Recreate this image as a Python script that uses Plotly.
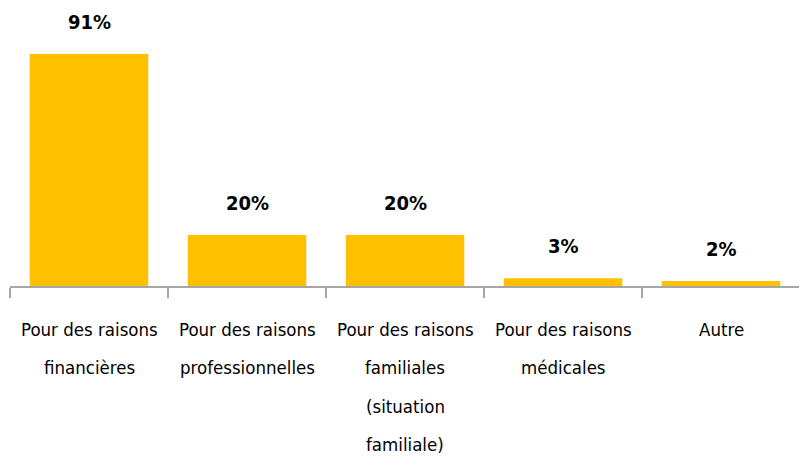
import plotly.graph_objects as go

categories = ["Pour des raisons financières", "Pour des raisons professionnelles",
              "Pour des raisons familiales (situation familiale)", "Pour des raisons médicales", "Autre"]
label_lines = [
    ["Pour des raisons", "financières"],
    ["Pour des raisons", "professionnelles"],
    ["Pour des raisons", "familiales", "(situation", "familiale)"],
    ["Pour des raisons", "médicales"],
    ["Autre"],
]
values = [91, 20, 20, 3, 2]
value_labels = ["91%", "20%", "20%", "3%", "2%"]

FONT = "Liberation Sans Narrow, DejaVu Sans Condensed, Arial Narrow, sans-serif"

fig = go.Figure(go.Bar(x=categories, y=values, marker=dict(color="#FFC000", line=dict(width=0)),
                       hoverinfo="skip"))

ann = []
for c, v, t in zip(categories, values, value_labels):
    ann.append(dict(x=c, y=v, xref="x", yref="y", text="<b>" + t + "</b>", showarrow=False,
                    yanchor="middle", yshift=32, font=dict(family=FONT, size=20, color="#000000")))
for c, lines in zip(categories, label_lines):
    for i, ln in enumerate(lines):
        ann.append(dict(x=c, y=0, xref="x", yref="y", text=ln, showarrow=False,
                        yanchor="middle", yshift=-(43 + 38.5 * i),
                        font=dict(family=FONT, size=18.5, color="#000000")))

fig.update_layout(
    width=799, height=451,
    margin=dict(l=2, r=7, t=23, b=173),
    paper_bgcolor="white", plot_bgcolor="white",
    bargap=0.25, showlegend=False,
    annotations=ann,
    xaxis=dict(showticklabels=False, ticks="outside", tickson="boundaries", ticklen=10,
               tickcolor="#A6A6A6", tickwidth=1.5, showline=True, linecolor="#A6A6A6", linewidth=1.5,
               showgrid=False, zeroline=False, fixedrange=True),
    yaxis=dict(range=[0, 100], visible=False, showgrid=False, zeroline=False, fixedrange=True),
)

fig.write_html("out.html")
